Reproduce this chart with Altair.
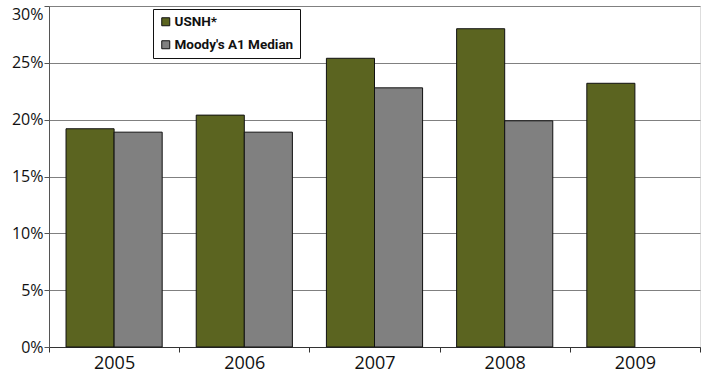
import altair as alt
import pandas as pd

# Ratio by fiscal year, in percent
years = ["2005", "2006", "2007", "2008", "2009"]
usnh = [19.2, 20.4, 25.4, 28.0, 23.2]
moodys_a1 = [18.9, 18.9, 22.8, 19.9, None]
series_names = ["USNH*", "Moody's A1 Median"]
y_ticks = [0, 5, 10, 15, 20, 25, 30]

rows = []
for i, yr in enumerate(years):
    rows.append({"year": yr, "series": series_names[0], "value": usnh[i]})
    if moodys_a1[i] is not None:
        rows.append({"year": yr, "series": series_names[1], "value": moodys_a1[i]})
df = pd.DataFrame(rows)

axis_font = "Open Sans"
legend_font = "Roboto"

bars = alt.Chart(df).mark_bar(stroke="#111111", strokeWidth=1).encode(
    x=alt.X(
        "year:N",
        sort=years,
        scale=alt.Scale(paddingInner=0, paddingOuter=0),
        axis=alt.Axis(
            title=None,
            labelAngle=0,
            labelFont=axis_font,
            labelFontSize=18,
            labelColor="#111111",
            labelPadding=2,
            tickBand="extent",
            tickSize=5,
            tickColor="#333333",
            domainColor="#333333",
            grid=False,
        ),
    ),
    xOffset=alt.XOffset(
        "series:N",
        sort=series_names,
        scale=alt.Scale(domain=series_names, paddingInner=0, paddingOuter=0.354),
    ),
    y=alt.Y(
        "value:Q",
        scale=alt.Scale(domain=[0, 30], nice=False),
        axis=alt.Axis(
            title=None,
            values=y_ticks,
            labelExpr="datum.value + '%'",
            labelBaseline=alt.ExprRef(expr="datum.value == 30 ? 'top' : 'middle'"),
            labelFont=axis_font,
            labelFontSize=16,
            labelColor="#111111",
            labelPadding=1,
            tickSize=5,
            tickColor="#555555",
            domainColor="#555555",
            grid=True,
            gridColor="#808080",
            gridWidth=1,
            gridOpacity=1,
        ),
    ),
    color=alt.Color(
        "series:N",
        sort=series_names,
        scale=alt.Scale(domain=series_names, range=["#5B6420", "#808080"]),
        legend=alt.Legend(
            title=None,
            orient="none",
            legendX=104,
            legendY=3,
            direction="vertical",
            fillColor="white",
            strokeColor="#111111",
            padding=6,
            rowPadding=8,
            symbolType="square",
            symbolSize=64,
            symbolStrokeColor="#111111",
            symbolStrokeWidth=1,
            labelFont=legend_font,
            labelFontSize=13.5,
            labelFontWeight="bold",
            labelColor="#111111",
            labelOffset=2,
            labelLimit=300,
        ),
    ),
)

chart = bars.properties(
    width=651,
    height=341,
    padding={"left": 49, "top": 6, "right": 4, "bottom": 28},
    autosize=alt.AutoSizeParams(type="none"),
).configure_view(stroke="#808080", strokeWidth=1).configure(background="white")

chart.save("out.html", embed_options={"renderer": "svg", "actions": False})
